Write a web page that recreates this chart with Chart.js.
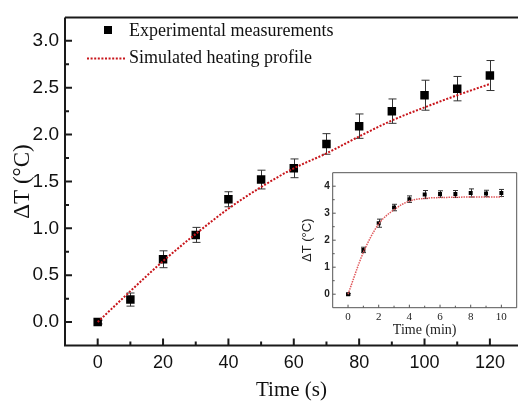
<!DOCTYPE html>
<html>
<head>
<meta charset="utf-8">
<script src="https://cdn.jsdelivr.net/npm/chart.js@4.4.1/dist/chart.umd.min.js"></script>
<style>
  html, body { margin: 0; padding: 0; background: #fff; }
  #wrap { position: relative; width: 524px; height: 407px; overflow: hidden; }
  canvas { position: absolute; left: 0; top: 0; }
</style>
</head>
<body>
<div id="wrap">
  <canvas id="main" width="524" height="407"></canvas>
  <canvas id="inset" width="524" height="407"></canvas>
</div>
<script>
// ── Données ────────────────────────────────────────────────────────────────
// Courbe principale : temps en secondes
const timeS       = [0, 10, 20, 30, 40, 50, 60, 70, 80, 90, 100, 110, 120];
const measuredS   = [0.00, 0.24, 0.67, 0.93, 1.31, 1.52, 1.64, 1.90, 2.09, 2.25, 2.42, 2.49, 2.63];
const errS        = [0.02, 0.07, 0.09, 0.08, 0.08, 0.10, 0.10, 0.11, 0.13, 0.13, 0.16, 0.13, 0.16];
const simulatedS  = [0.00, 0.33, 0.65, 0.94, 1.21, 1.44, 1.64, 1.80, 1.98, 2.15, 2.29, 2.42, 2.54];

const xTicksS = [0, 20, 40, 60, 80, 100, 120];
const xMinorS = [10, 30, 50, 70, 90, 110];
const yTicksS = [0, 0.5, 1.0, 1.5, 2.0, 2.5, 3.0];
const yMinorS = [0.25, 0.75, 1.25, 1.75, 2.25, 2.75];

// Encart : temps en minutes
const timeMin      = [0, 1, 2, 3, 4, 5, 6, 7, 8, 9, 10];
const measuredMin  = [0.00, 1.64, 2.63, 3.21, 3.52, 3.69, 3.71, 3.71, 3.75, 3.73, 3.75];
const errMin       = [0.03, 0.10, 0.15, 0.12, 0.12, 0.15, 0.12, 0.13, 0.15, 0.12, 0.13];
const simulatedMin = [0.00, 1.55, 2.60, 3.13, 3.45, 3.55, 3.58, 3.59, 3.60, 3.60, 3.60];

const xTicksMin = [0, 2, 4, 6, 8, 10];
const xMinorMin = [1, 3, 5, 7, 9];
const yTicksMin = [0, 1, 2, 3, 4];
const yMinorMin = [0.5, 1.5, 2.5, 3.5];

const SERIF = '"Liberation Serif", "Times New Roman", serif';
const SANS  = '"Liberation Sans", Arial, sans-serif';

const pts = (xs, ys) => xs.map((x, i) => ({ x, y: ys[i] }));

// ── Plugin : barres d'erreur ──────────────────────────────────────────────
const errorBars = {
  id: 'errorBars',
  beforeDatasetsDraw(chart, args, o) {
    const { ctx, scales: { x, y } } = chart;
    ctx.save();
    ctx.strokeStyle = o.color;
    ctx.lineWidth = o.width;
    o.xs.forEach((t, i) => {
      const px = Math.round(x.getPixelForValue(t)) + 0.5;
      const top = y.getPixelForValue(o.ys[i] + o.err[i]);
      const bot = y.getPixelForValue(o.ys[i] - o.err[i]);
      ctx.beginPath();
      ctx.moveTo(px, top); ctx.lineTo(px, bot);
      ctx.moveTo(px - o.cap, top); ctx.lineTo(px + o.cap, top);
      ctx.moveTo(px - o.cap, bot); ctx.lineTo(px + o.cap, bot);
      ctx.stroke();
    });
    ctx.restore();
  },
};

// ── Plugin : cadre + graduations vers l'intérieur ─────────────────────────
const frameTicks = {
  id: 'frameTicks',
  afterDatasetsDraw(chart, args, o) {
    const { ctx, chartArea: a, scales: { x, y } } = chart;
    ctx.save();
    ctx.strokeStyle = o.color;
    ctx.lineWidth = o.width;
    ctx.beginPath();
    ctx.moveTo(a.left, a.top); ctx.lineTo(a.left, a.bottom); ctx.lineTo(a.right, a.bottom);
    ctx.moveTo(a.left, a.top); ctx.lineTo(a.right, a.top);
    if (o.right) { ctx.moveTo(a.right, a.top); ctx.lineTo(a.right, a.bottom); }
    ctx.stroke();

    ctx.lineWidth = o.tickWidth;
    ctx.beginPath();
    const xt = (vals, len) => vals.forEach(v => {
      const px = x.getPixelForValue(v);
      ctx.moveTo(px, a.bottom); ctx.lineTo(px, a.bottom - len);
    });
    const yt = (vals, len) => vals.forEach(v => {
      const py = y.getPixelForValue(v);
      ctx.moveTo(a.left, py); ctx.lineTo(a.left + len, py);
    });
    xt(o.xMajor, o.major); xt(o.xMinor, o.minor);
    yt(o.yMajor, o.major); yt(o.yMinor, o.minor);
    ctx.stroke();
    ctx.restore();
  },
};

// ── Plugin : légende dans le graphe ───────────────────────────────────────
const inlineLegend = {
  id: 'inlineLegend',
  afterDraw(chart) {
    const { ctx } = chart;
    const [sim, exp] = chart.data.datasets;
    ctx.save();
    ctx.font = '18px ' + SERIF;
    ctx.textBaseline = 'middle';

    ctx.fillStyle = exp.backgroundColor;
    ctx.fillRect(104, 26, 8, 8);
    ctx.fillStyle = '#111';
    ctx.fillText(exp.label, 129, 31);

    ctx.strokeStyle = sim.borderColor;
    ctx.lineWidth = sim.borderWidth;
    ctx.setLineDash(sim.borderDash);
    ctx.beginPath();
    ctx.moveTo(87, 58.5); ctx.lineTo(125, 58.5);
    ctx.stroke();
    ctx.setLineDash([]);
    ctx.fillText(sim.label, 129, 58);
    ctx.restore();
  },
};

const noGrid = { display: false, drawTicks: false };

// ── Graphique principal ───────────────────────────────────────────────────
new Chart(document.getElementById('main'), {
  type: 'scatter',
  plugins: [errorBars, frameTicks, inlineLegend],
  data: {
    datasets: [
      {
        label: 'Simulated heating profile',
        data: pts(timeS, simulatedS),
        showLine: true,
        borderColor: '#c8151b',
        borderWidth: 2,
        borderDash: [2, 1.6],
        pointRadius: 0,
        cubicInterpolationMode: 'monotone',
      },
      {
        label: 'Experimental measurements',
        data: pts(timeS, measuredS),
        pointStyle: 'rect',
        pointRadius: 6,
        backgroundColor: '#000',
        borderColor: '#000',
        borderWidth: 0,
      },
    ],
  },
  options: {
    responsive: false,
    animation: false,
    events: [],
    layout: { padding: { top: 5, left: 0, right: 0, bottom: 0 } },
    plugins: {
      legend: { display: false },
      tooltip: { enabled: false },
      errorBars: { xs: timeS, ys: measuredS, err: errS, cap: 4, color: '#333', width: 1 },
      frameTicks: {
        color: '#1a1a1a', width: 2, tickWidth: 2, right: false, major: 7, minor: 4,
        xMajor: xTicksS, xMinor: xMinorS, yMajor: yTicksS, yMinor: yMinorS,
      },
    },
    scales: {
      x: {
        type: 'linear', min: -10, max: 128.6,
        grid: noGrid, border: { display: false },
        afterBuildTicks: s => { s.ticks = xTicksS.map(v => ({ value: v })); },
        afterFit: s => { s.height = 61.5; },
        ticks: { color: '#111', padding: 7, font: { family: SANS, size: 18 } },
        title: { display: true, text: 'Time (s)', color: '#111', padding: { top: 0, bottom: 4 }, font: { family: SERIF, size: 21 } },
      },
      y: {
        type: 'linear', min: -0.25, max: 3.25,
        grid: noGrid, border: { display: false },
        afterBuildTicks: s => { s.ticks = yTicksS.map(v => ({ value: v })); },
        afterFit: s => { s.width = 65; },
        ticks: { color: '#111', padding: 6, font: { family: SANS, size: 19 }, callback: v => v.toFixed(1) },
        title: { display: true, text: 'ΔT (°C)', color: '#111', padding: { top: 9.5, bottom: 0 }, font: { family: SERIF, size: 23 } },
      },
    },
  },
});

// ── Encart ────────────────────────────────────────────────────────────────
new Chart(document.getElementById('inset'), {
  type: 'scatter',
  plugins: [errorBars, frameTicks],
  data: {
    datasets: [
      {
        label: 'Simulated',
        data: pts(timeMin, simulatedMin),
        showLine: true,
        borderColor: '#e0575a',
        borderWidth: 1.5,
        borderDash: [1.5, 1],
        pointRadius: 0,
        cubicInterpolationMode: 'monotone',
      },
      {
        label: 'Experimental',
        data: pts(timeMin, measuredMin),
        pointStyle: 'rect',
        pointRadius: 2.8,
        backgroundColor: '#000',
        borderColor: '#000',
        borderWidth: 0,
      },
    ],
  },
  options: {
    responsive: false,
    animation: false,
    events: [],
    layout: { padding: { top: 172.7, left: 300, right: 7.3, bottom: 68.1 } },
    plugins: {
      legend: { display: false },
      tooltip: { enabled: false },
      errorBars: { xs: timeMin, ys: measuredMin, err: errMin, cap: 2.5, color: '#333', width: 1 },
      frameTicks: {
        color: '#555', width: 1, tickWidth: 1, right: true, major: 3, minor: 2,
        xMajor: xTicksMin, xMinor: xMinorMin, yMajor: yTicksMin, yMinor: yMinorMin,
      },
    },
    scales: {
      x: {
        type: 'linear', min: -1, max: 11,
        grid: noGrid, border: { display: false },
        afterBuildTicks: s => { s.ticks = xTicksMin.map(v => ({ value: v })); },
        afterFit: s => { s.height = 31.2; },
        ticks: { color: '#222', padding: 3, font: { family: SERIF, size: 11 } },
        title: { display: true, text: 'Time (min)', color: '#222', padding: 0, font: { family: SERIF, size: 14 } },
      },
      y: {
        type: 'linear', min: -0.5, max: 4.5,
        grid: noGrid, border: { display: false },
        afterBuildTicks: s => { s.ticks = yTicksMin.map(v => ({ value: v })); },
        afterFit: s => { s.width = 32.7; },
        ticks: { color: '#222', padding: 3, font: { family: SANS, size: 10, weight: 'bold' } },
        title: { display: true, text: 'ΔT (°C)', color: '#222', padding: 0, font: { family: SANS, size: 13 } },
      },
    },
  },
});
</script>
</body>
</html>
